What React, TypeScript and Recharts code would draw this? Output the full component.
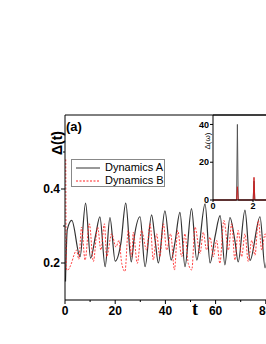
import React from 'react';
import { LineChart, Line, XAxis, YAxis, ReferenceLine, Legend } from 'recharts';

// Dynamics A (solid black): time and Δ(t), read at peaks, troughs and shoulders
const timeA = [0.2, 0.9, 2.7, 6.0, 8.2, 10.2, 12.2, 13.9, 16.0, 17.9, 20.0, 22.3, 24.2, 26.4, 27.6, 29.9, 31.9, 34.5, 35.9, 37.2, 39.8, 42.3, 43.8, 45.8, 47.8, 50.4, 52.5, 55.8, 57.8, 59.8, 61.8, 63.7, 65.7, 67.7, 69.0, 71.7, 73.7, 77.7, 79.7, 81.5];
const deltaA = [0.15, 0.29, 0.315, 0.217, 0.362, 0.213, 0.275, 0.325, 0.19, 0.323, 0.205, 0.255, 0.362, 0.203, 0.27, 0.325, 0.19, 0.33, 0.262, 0.2, 0.341, 0.208, 0.255, 0.337, 0.19, 0.347, 0.208, 0.36, 0.2, 0.272, 0.328, 0.195, 0.323, 0.26, 0.203, 0.343, 0.207, 0.325, 0.187, 0.3];

// Dynamics B (dashed red)
const timeB = [0.3, 0.5, 0.9, 2.6, 3.6, 4.6, 5.5, 6.6, 8.0, 9.7, 11.3, 13.0, 14.3, 15.7, 16.6, 18.6, 20.3, 21.5, 22.6, 23.9, 25.2, 26.6, 27.2, 28.8, 30.5, 32.5, 33.9, 35.2, 36.5, 37.8, 39.2, 40.5, 42.1, 43.6, 44.9, 46.5, 47.8, 49.1, 50.5, 51.8, 53.8, 55.1, 56.4, 57.8, 59.1, 60.4, 61.7, 63.3, 65.1, 66.4, 67.7, 69.0, 70.4, 71.7, 73.0, 74.4, 75.7, 77.0, 78.4, 79.7, 81.0];
const deltaB = [0.48, 0.19, 0.18, 0.2, 0.222, 0.235, 0.21, 0.297, 0.208, 0.306, 0.204, 0.297, 0.235, 0.306, 0.217, 0.279, 0.243, 0.261, 0.199, 0.177, 0.288, 0.217, 0.283, 0.199, 0.288, 0.235, 0.306, 0.208, 0.279, 0.217, 0.306, 0.235, 0.279, 0.181, 0.288, 0.217, 0.279, 0.199, 0.181, 0.297, 0.226, 0.283, 0.235, 0.27, 0.217, 0.261, 0.199, 0.315, 0.235, 0.306, 0.208, 0.288, 0.217, 0.279, 0.204, 0.261, 0.221, 0.315, 0.235, 0.279, 0.22];

// inset spectrum Δ(ω)
const omega = [0, 1.18, 1.22, 1.26, 2.01, 2.05, 2.09, 4];
const specA = [0, 0, 40, 0, 0, 10, 0, 0];
const specB = [0, 0, 7, 0, 0, 12, 0, 0];

const mainXTicks = [0, 10, 20, 30, 40, 50, 60, 70, 80, 90, 100];
const mainYTicks = [0.2, 0.3, 0.4, 0.5];
const insetXTicks = [0, 2, 4];
const insetYTicks = [0, 20, 40];

const rowsA = timeA.map((t, i) => ({ t, v: deltaA[i] }));
const rowsB = timeB.map((t, i) => ({ t, v: deltaB[i] }));
const specRowsA = omega.map((w, i) => ({ w, v: specA[i] }));
const specRowsB = omega.map((w, i) => ({ w, v: specB[i] }));

const font = 'Arial, "Liberation Sans", sans-serif';

const XTick = (props: any) => {
  const { x, y, payload } = props;
  const v = payload.value;
  const major = v % 20 === 0;
  return (
    <g>
      <line x1={x} y1={y} x2={x} y2={y + (major ? 4 : 2)} stroke="#000" />
      {major && (
        <text x={x} y={y + 15} textAnchor="middle" fontSize={12} fontWeight="bold" fontFamily={font} fill="#000">
          {v}
        </text>
      )}
    </g>
  );
};

const YTick = (props: any) => {
  const { x, y, payload } = props;
  const v = payload.value;
  const major = Math.round(v * 10) % 2 === 0;
  return (
    <g>
      <line x1={x} y1={y} x2={x - (major ? 4 : 2)} y2={y} stroke="#000" />
      {major && (
        <text x={x - 5} y={y + 4} textAnchor="end" fontSize={12} fontWeight="bold" fontFamily={font} fill="#000">
          {v.toFixed(1)}
        </text>
      )}
    </g>
  );
};

const renderLegend = (props: any) => {
  const items = props.payload || [];
  return (
    <div style={{ border: '1.5px solid #888', width: 92, height: 25, paddingTop: 1, fontFamily: font, fontSize: 11, color: '#000', background: '#fff' }}>
      {items.map((e: any, i: number) => (
        <div key={i} style={{ display: 'flex', alignItems: 'center', height: 13 }}>
          <svg width={30} height={8}>
            <line x1={4} y1={4} x2={28} y2={4} stroke={e.color} strokeWidth={1} strokeDasharray={i === 1 ? '2 1.5' : undefined} />
          </svg>
          <span style={{ marginLeft: 3, lineHeight: '13px' }}>{e.value}</span>
        </div>
      ))}
    </div>
  );
};

export default function App() {
  return (
    <div style={{ position: 'absolute', left: 0, top: 0, width: 266, height: 344, overflow: 'hidden', background: '#fff' }}>
      <LineChart width={330} height={344} margin={{ top: 115, right: 14, bottom: 24, left: 25 }}>
        <XAxis
          dataKey="t"
          type="number"
          domain={[0, 100]}
          ticks={mainXTicks}
          interval={0}
          height={20}
          tickSize={0}
          tickMargin={0}
          tickLine={false}
          tick={<XTick />}
          axisLine={{ stroke: '#777', strokeWidth: 2 }}
        />
        <YAxis
          type="number"
          domain={[0.1, 0.6]}
          ticks={mainYTicks}
          interval={0}
          width={40}
          tickSize={0}
          tickMargin={0}
          tickLine={false}
          tick={<YTick />}
          axisLine={{ stroke: '#000' }}
        />
        <ReferenceLine y={0.6} stroke="#000" />
        <Legend layout="horizontal" verticalAlign="middle" align="center" content={renderLegend}
          wrapperStyle={{ position: 'absolute', left: 71, top: 159, width: 95, height: 28 }} />
        <Line data={rowsA} dataKey="v" name="Dynamics A" type="monotone" stroke="#333" strokeWidth={1.2} dot={false} isAnimationActive={false} />
        <Line data={rowsB} dataKey="v" name="Dynamics B" type="monotone" stroke="#ff2020" strokeWidth={1} strokeDasharray="2 1.5" strokeOpacity={0.85} dot={false} isAnimationActive={false} />
      </LineChart>

      <div style={{ position: 'absolute', left: 180, top: 105 }}>
        <LineChart width={113} height={115} margin={{ top: 10, right: 0, bottom: 5, left: 0 }}>
          <XAxis
            dataKey="w"
            type="number"
            domain={[0, 4]}
            ticks={insetXTicks}
            interval={0}
            height={15}
            tickSize={2}
            tickMargin={1}
            tick={{ fontSize: 9, fontWeight: 'bold', fill: '#000', fontFamily: font }}
            tickLine={{ stroke: '#000' }}
            axisLine={{ stroke: '#000' }}
          />
          <YAxis
            type="number"
            domain={[0, 45]}
            ticks={insetYTicks}
            interval={0}
            width={33}
            tickSize={3}
            tickMargin={1}
            tick={{ fontSize: 9, fontWeight: 'bold', fill: '#000', fontFamily: font }}
            tickLine={{ stroke: '#000' }}
            axisLine={{ stroke: '#000' }}
          />
          <ReferenceLine y={45} stroke="#000" />
          <Line data={specRowsA} dataKey="v" type="linear" stroke="#555" strokeWidth={1} dot={false} isAnimationActive={false} />
          <Line data={specRowsB} dataKey="v" type="linear" stroke="#cc2222" strokeWidth={1} dot={false} isAnimationActive={false} />
        </LineChart>
      </div>

      <svg width={266} height={344} style={{ position: 'absolute', left: 0, top: 0, pointerEvents: 'none' }}>
        <text x={66} y={130.5} fontSize={13} fontWeight="bold" fontFamily={font} fill="#000">(a)</text>
        <text x={57} y={143} transform="rotate(-90 57 143)" textAnchor="middle" dominantBaseline="central" fontSize={14} fontWeight="bold" fontFamily={font} fill="#000">Δ(t)</text>
        <text x={195} y={315} textAnchor="middle" fontSize={18} fontWeight="bold" fontFamily='"Liberation Serif", "Times New Roman", serif' fill="#000">t</text>
        <text x={207} y={141} transform="rotate(-90 207 141)" textAnchor="middle" dominantBaseline="central" fontSize={8} fontFamily={font} fill="#000">Δ(ω)</text>
      </svg>
    </div>
  );
}
